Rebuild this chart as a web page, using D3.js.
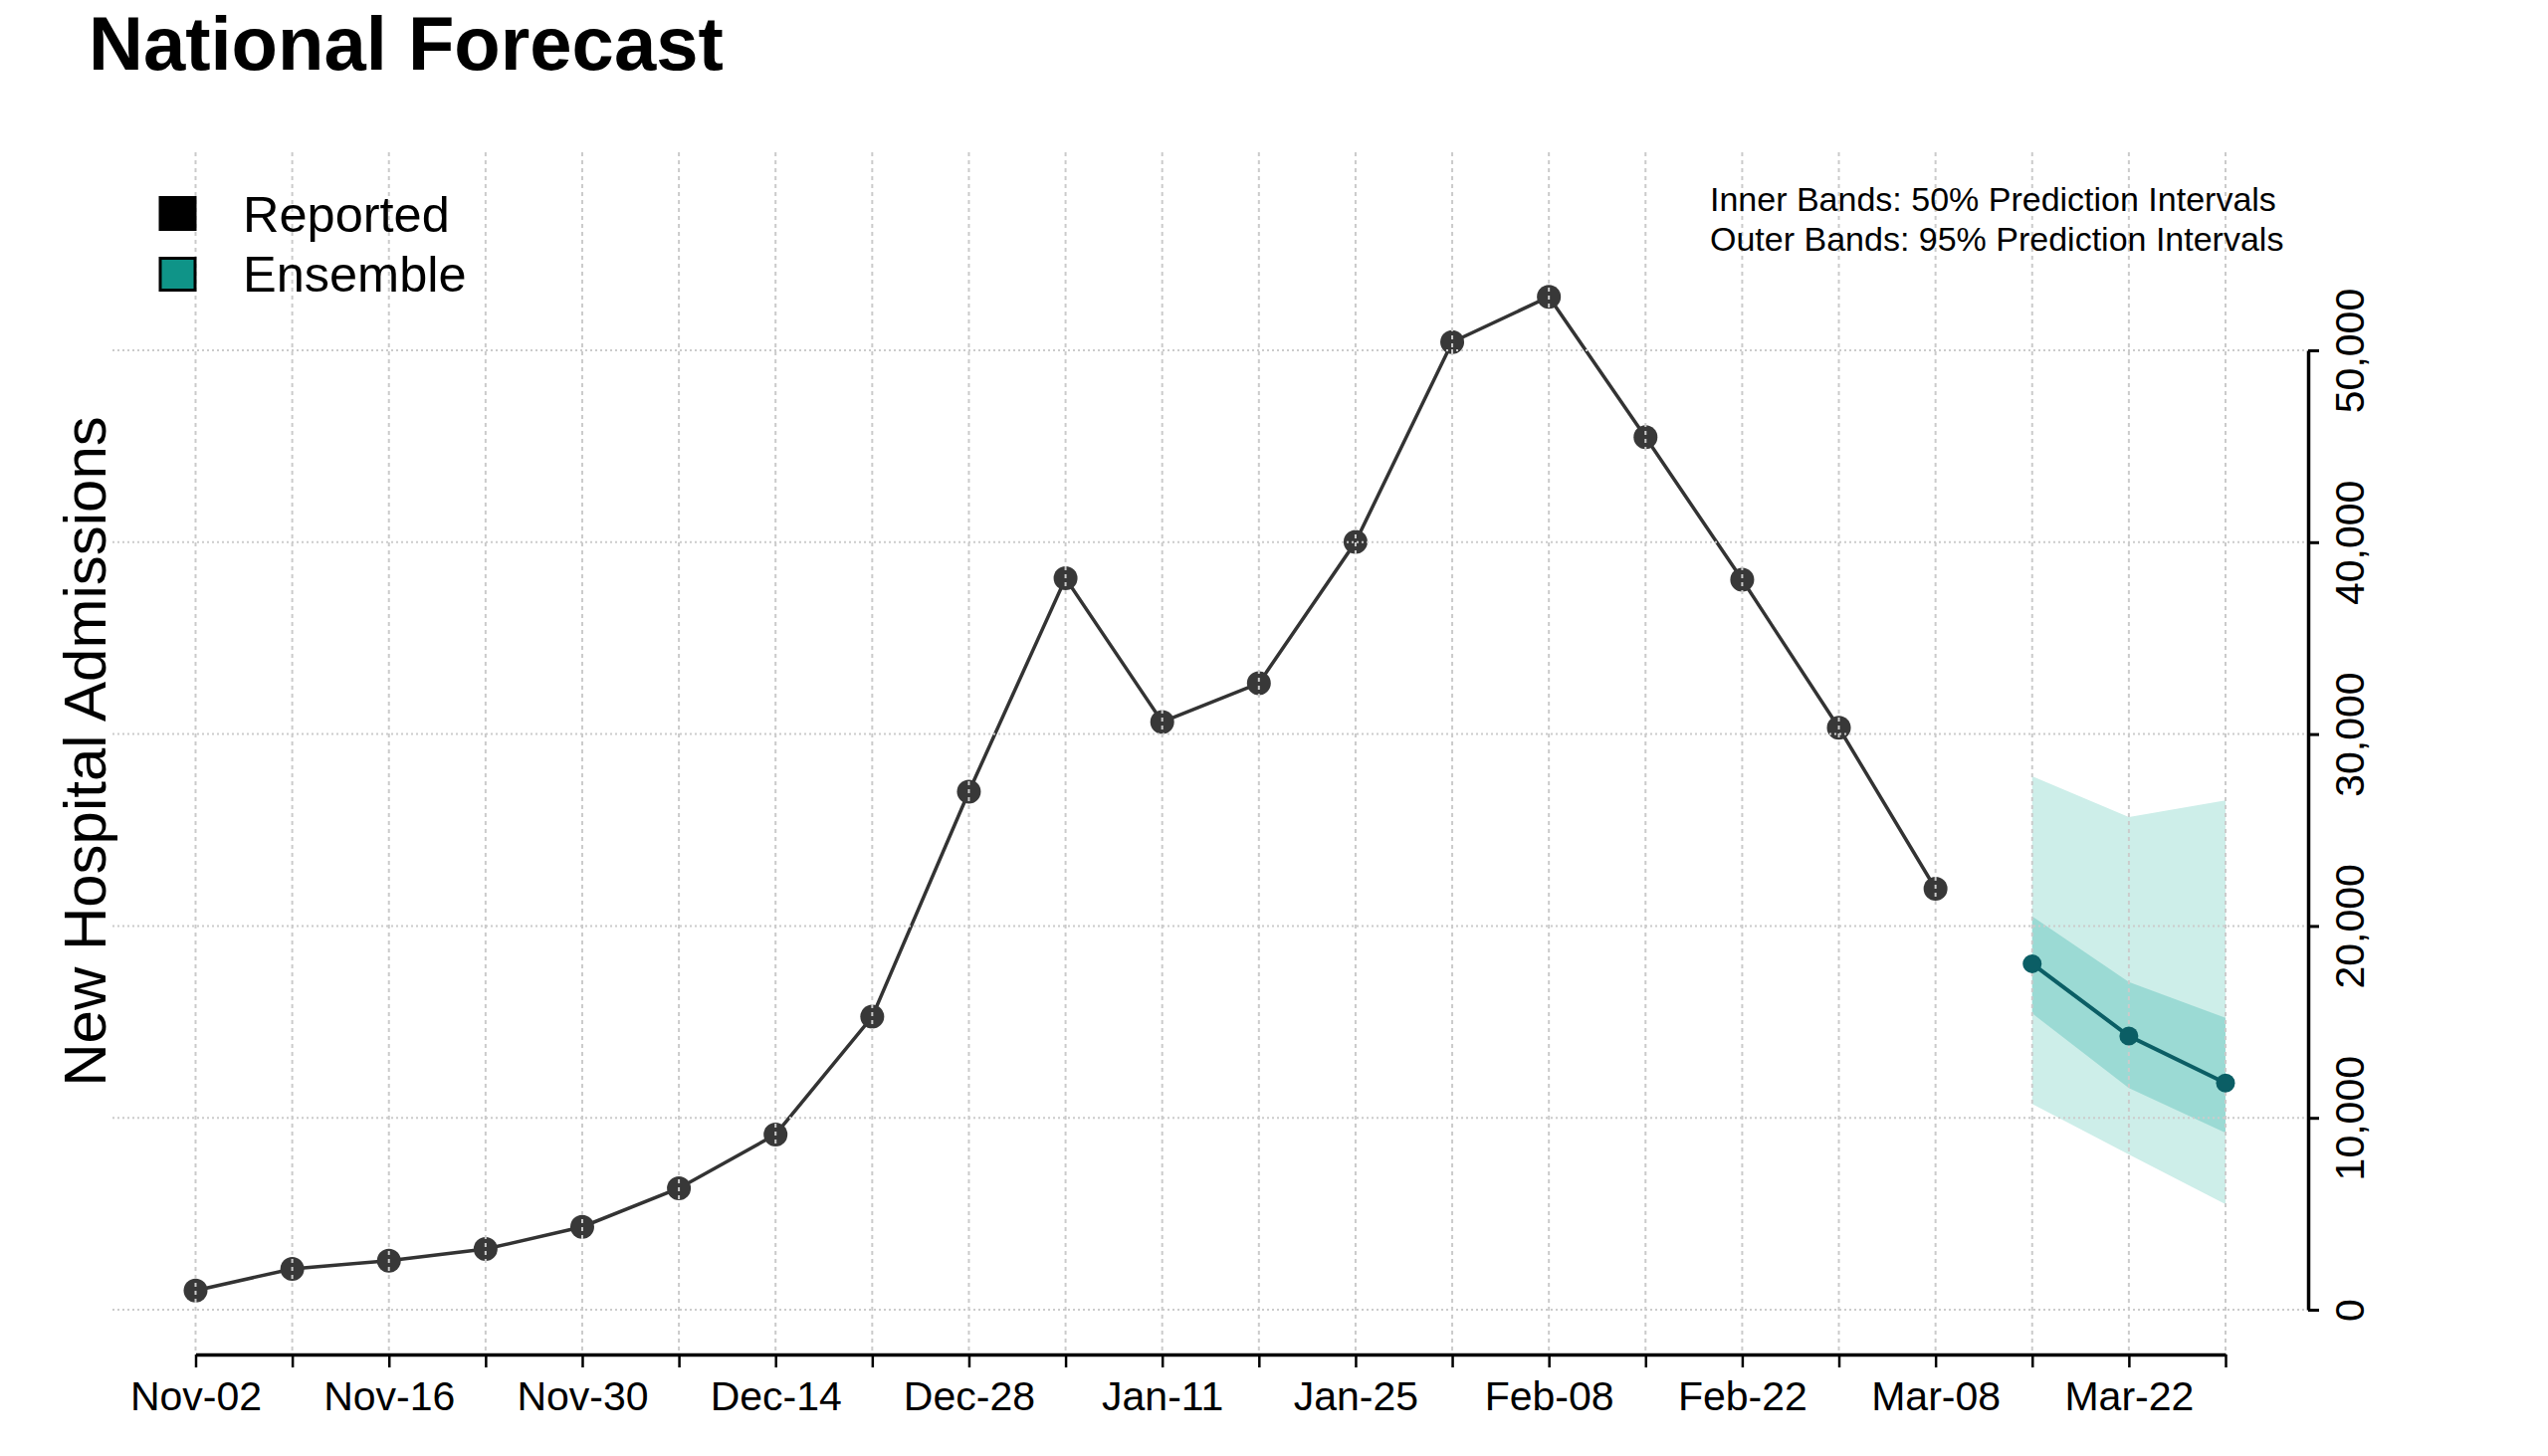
<!DOCTYPE html>
<html>
<head>
<meta charset="utf-8">
<script src="https://cdn.jsdelivr.net/npm/d3@7"></script>
<style>
  body { margin: 0; background: #fff; }
  svg { display: block; font-family: "Liberation Sans", Arial, sans-serif; }
  .grid line { stroke: #cbcbcb; stroke-width: 2; }
  .grid line.v { stroke-dasharray: 4,4; }
  .grid line.h { stroke-dasharray: 2,3; }
</style>
</head>
<body>
<svg id="chart" width="2560" height="1463"></svg>
<script>
// Reported weekly admissions (week starting dates).
var reportedDates = ['2020-11-02', '2020-11-09', '2020-11-16', '2020-11-23', '2020-11-30',
    '2020-12-07', '2020-12-14', '2020-12-21', '2020-12-28', '2021-01-04', '2021-01-11',
    '2021-01-18', '2021-01-25', '2021-02-01', '2021-02-08', '2021-02-15', '2021-02-22',
    '2021-03-01', '2021-03-08'];
var reportedValues = [1000, 2130, 2560, 3160, 4320, 6330, 9130, 15270, 27000, 38120, 30630,
    32650, 40010, 50430, 52790, 45470, 38040, 30330, 21940];

// Ensemble forecast.
var forecastDates = ['2021-03-15', '2021-03-22', '2021-03-29'];
var forecastMedian = [18030, 14260, 11810];
var forecastLower95 = [10720, 8090, 5500];
var forecastUpper95 = [27800, 25670, 26540];
var forecastLower50 = [15440, 11550, 9220];
var forecastUpper50 = [20500, 17080, 15210];

var yTicks = [0, 10000, 20000, 30000, 40000, 50000];
var axisStart = '2020-11-02',
    axisEnd = '2021-03-29';

var svg = d3.select('#chart'),
    parseDate = d3.utcParse('%Y-%m-%d'),
    fmtTick = d3.utcFormat('%b-%d'),
    plot = { left: 113, right: 2318, top: 153, bottom: 1358 }, // grid area
    xAxisY = 1361,
    yAxisX = 2319;

var x = d3.scaleUtc()
    .domain([parseDate(axisStart), parseDate(axisEnd)])
    .range([196.5, 2236]);
var y = d3.scaleLinear()
    .domain([0, 50000])
    .range([1316, 352]);

var weekTicks = d3.utcMonday.range(parseDate(axisStart), d3.utcDay.offset(parseDate(axisEnd), 1));

var reported = reportedDates.map((d, i) => ({ date: parseDate(d), value: reportedValues[i] }));
var forecast = forecastDates.map((d, i) => ({
    date: parseDate(d),
    median: forecastMedian[i],
    lo95: forecastLower95[i], hi95: forecastUpper95[i],
    lo50: forecastLower50[i], hi50: forecastUpper50[i]
}));

// Title
svg.append('text')
    .attr('x', 89).attr('y', 70)
    .attr('font-size', 76).attr('font-weight', 'bold')
    .text('National Forecast');

// Prediction bands
svg.append('path')
    .datum(forecast)
    .attr('fill', '#cdeee9')
    .attr('d', d3.area().x(d => x(d.date)).y0(d => y(d.lo95)).y1(d => y(d.hi95)));
svg.append('path')
    .datum(forecast)
    .attr('fill', '#9bdad4')
    .attr('d', d3.area().x(d => x(d.date)).y0(d => y(d.lo50)).y1(d => y(d.hi50)));

// Reported line and points
svg.append('path')
    .datum(reported)
    .attr('fill', 'none')
    .attr('stroke', '#333')
    .attr('stroke-width', 3.5)
    .attr('d', d3.line().x(d => x(d.date)).y(d => y(d.value)));
svg.append('g')
    .selectAll('circle')
    .data(reported)
    .join('circle')
    .attr('cx', d => x(d.date))
    .attr('cy', d => y(d.value))
    .attr('r', 12)
    .attr('fill', '#383838');

// Grid (drawn over the points, as in the original)
var grid = svg.append('g').attr('class', 'grid');
grid.selectAll('line.v')
    .data(weekTicks)
    .join('line')
    .attr('class', 'v')
    .attr('x1', d => x(d)).attr('x2', d => x(d))
    .attr('y1', plot.top).attr('y2', plot.bottom);
grid.selectAll('line.h')
    .data(yTicks)
    .join('line')
    .attr('class', 'h')
    .attr('x1', plot.left).attr('x2', plot.right)
    .attr('y1', d => y(d)).attr('y2', d => y(d));

// Forecast median
svg.append('path')
    .datum(forecast)
    .attr('fill', 'none')
    .attr('stroke', '#0b5e65')
    .attr('stroke-width', 4)
    .attr('d', d3.line().x(d => x(d.date)).y(d => y(d.median)));
svg.append('g')
    .selectAll('circle')
    .data(forecast)
    .join('circle')
    .attr('cx', d => x(d.date))
    .attr('cy', d => y(d.median))
    .attr('r', 9.5)
    .attr('fill', '#0b5e65');

// X axis
var xAxis = svg.append('g')
    .attr('transform', 'translate(0,' + xAxisY + ')')
    .call(d3.axisBottom(x)
        .tickValues(weekTicks)
        .tickSize(13)
        .tickSizeOuter(0)
        .tickFormat((d, i) => i % 2 === 0 && i < weekTicks.length - 1 ? fmtTick(d) : ''));
xAxis.select('.domain').attr('stroke', '#000').attr('stroke-width', 3.5);
xAxis.selectAll('.tick line').attr('stroke', '#000').attr('stroke-width', 2.5);
xAxis.selectAll('.tick text')
    .attr('font-family', '"Liberation Sans", Arial, sans-serif')
    .attr('font-size', 41)
    .attr('fill', '#000')
    .attr('y', 56)
    .attr('dy', 0);

// Y axis (right side, rotated labels)
var yAxis = svg.append('g')
    .attr('transform', 'translate(' + yAxisX + ',0)')
    .call(d3.axisRight(y)
        .tickValues(yTicks)
        .tickSize(11)
        .tickSizeOuter(0)
        .tickFormat(d3.format(',')));
yAxis.select('.domain').attr('stroke', '#000').attr('stroke-width', 3.5);
yAxis.selectAll('.tick line').attr('stroke', '#000').attr('stroke-width', 3);
yAxis.selectAll('.tick text')
    .attr('font-family', '"Liberation Sans", Arial, sans-serif')
    .attr('font-size', 41)
    .attr('fill', '#000')
    .attr('x', null)
    .attr('dy', 0)
    .attr('text-anchor', 'middle')
    .attr('transform', 'translate(56,0) rotate(-90)');

// Y axis title
svg.append('text')
    .attr('transform', 'translate(106,755) rotate(-90)')
    .attr('text-anchor', 'middle')
    .attr('font-size', 60)
    .text('New Hospital Admissions');

// Legend
var legendItems = [
    { label: 'Reported', color: '#000', top: 197, base: 233 },
    { label: 'Ensemble', color: '#0f9488', top: 258, base: 293 }
];
var legend = svg.append('g');
legend.selectAll('rect')
    .data(legendItems)
    .join('rect')
    .attr('x', 161).attr('y', d => d.top + 1.5)
    .attr('width', 35).attr('height', 32)
    .attr('fill', d => d.color)
    .attr('stroke', '#000').attr('stroke-width', 3);
legend.selectAll('text')
    .data(legendItems)
    .join('text')
    .attr('x', 244).attr('y', d => d.base)
    .attr('font-size', 50.5)
    .text(d => d.label);

// Band note
svg.append('g')
    .selectAll('text')
    .data(['Inner Bands: 50% Prediction Intervals', 'Outer Bands: 95% Prediction Intervals'])
    .join('text')
    .attr('x', 1718)
    .attr('y', (d, i) => 212 + i * 40)
    .attr('font-size', 34)
    .text(d => d);
</script>
</body>
</html>
